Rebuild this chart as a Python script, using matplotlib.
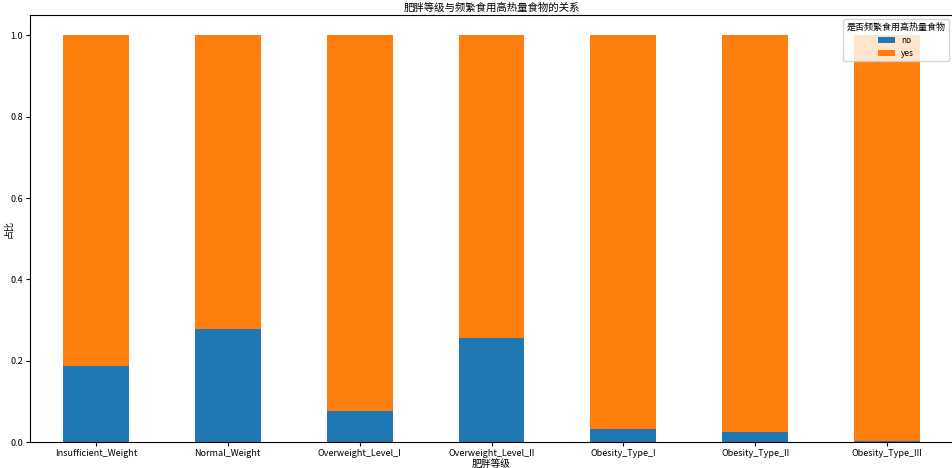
import matplotlib

matplotlib.use("Agg")
import matplotlib.pyplot as plt
import numpy as np

plt.rcParams["font.family"] = ["Noto Sans CJK SC", "DejaVu Sans"]
plt.rcParams["axes.unicode_minus"] = False

# proportion of each obesity level that frequently eats high-calorie food
categories = [
    "Insufficient_Weight", "Normal_Weight", "Overweight_Level_I",
    "Overweight_Level_II", "Obesity_Type_I", "Obesity_Type_II", "Obesity_Type_III",
]
share_no = [0.188, 0.278, 0.077, 0.256, 0.032, 0.024, 0.003]
share_yes = [1 - v for v in share_no]
series_labels = ["no", "yes"]
colors = ["#1f77b4", "#ff7f0e"]

fig = plt.figure(figsize=(9.52, 4.68), dpi=100)
ax = fig.add_axes([30 / 952, 1 - 442 / 468, 923 / 952, 427 / 468])

x = np.arange(len(categories))
ax.bar(x, share_no, width=0.5, color=colors[0], label=series_labels[0])
ax.bar(x, share_yes, width=0.5, bottom=share_no, color=colors[1], label=series_labels[1])

ax.set_xlim(-0.5, len(categories) - 0.5)
ax.set_ylim(0, 1.05)
ax.set_xticks(x)
ax.set_xticklabels(categories, rotation=0, fontsize=6.5)
ax.set_yticks([0.0, 0.2, 0.4, 0.6, 0.8, 1.0])
ax.set_yticklabels(["0.0", "0.2", "0.4", "0.6", "0.8", "1.0"], fontsize=6.5)
ax.tick_params(length=3, pad=2)
ax.set_xlabel("肥胖等级", fontsize=7, labelpad=1)
ax.set_ylabel("占比", fontsize=6.5, va="center")
ax.yaxis.set_label_coords(-21 / 923, 0.5)
ax.set_title("肥胖等级与频繁食用高热量食物的关系", fontsize=7.5, pad=3)
ax.legend(title="是否频繁食用高热量食物", loc="upper right", fontsize=6,
          title_fontsize=6.5, frameon=True)

fig.savefig("out.png", dpi=100)
